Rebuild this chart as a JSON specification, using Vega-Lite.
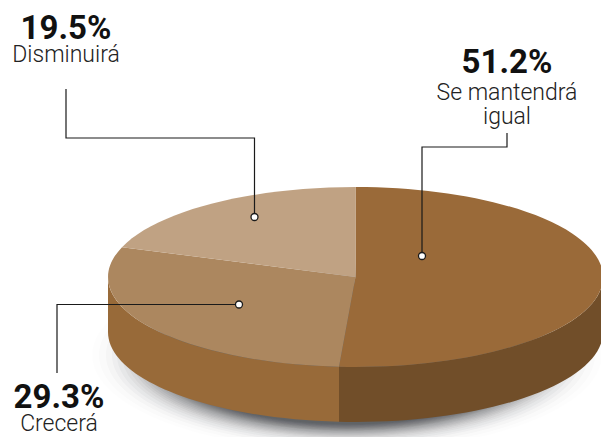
{"$schema":"https://vega.github.io/schema/vega-lite/v6.json","width":601,"height":437,"autosize":"none","padding":0,"background":"white","view":{"stroke":null},"config":{"axis":{"domain":false}},
"datasets":{
"shadow":[{"ring":1,"x":347,"y":355,"reach":255},{"ring":2,"x":347,"y":355,"reach":248},{"ring":3,"x":347,"y":355,"reach":241},{"ring":4,"x":347,"y":355,"reach":235},{"ring":5,"x":347,"y":355,"reach":230},{"ring":6,"x":347,"y":355,"reach":225},{"ring":7,"x":347,"y":355,"reach":221},{"ring":8,"x":347,"y":355,"reach":217},{"ring":9,"x":347,"y":355,"reach":214},{"ring":10,"x":347,"y":355,"reach":211},{"ring":11,"x":347,"y":355,"reach":208},{"ring":12,"x":347,"y":355,"reach":205},{"ring":13,"x":347,"y":355,"reach":202},{"ring":14,"x":347,"y":355,"reach":200},{"ring":15,"x":347,"y":355,"reach":198},{"ring":16,"x":347,"y":355,"reach":196},{"ring":17,"x":347,"y":355,"reach":194},{"ring":18,"x":347,"y":355,"reach":192},{"ring":19,"x":347,"y":355,"reach":190},{"ring":20,"x":347,"y":355,"reach":188},{"ring":21,"x":347,"y":355,"reach":186},{"ring":22,"x":347,"y":355,"reach":184}],
"pie":[{"piece":"Canto izquierdo","x":355.5,"y":277},{"piece":"Canto derecho","x":355.5,"y":277},{"piece":"Se mantendrá igual","share":51.2,"x":355.5,"y":277},{"piece":"Crecerá","share":29.3,"x":355.5,"y":277},{"piece":"Disminuirá","share":19.5,"x":355.5,"y":277}],
"leaders":[{"slice":"Disminuirá","seq":1,"x":66,"y":89},{"slice":"Disminuirá","seq":2,"x":66,"y":138},{"slice":"Disminuirá","seq":3,"x":254.5,"y":138},{"slice":"Disminuirá","seq":4,"x":254.5,"y":217},{"slice":"Se mantendrá igual","seq":1,"x":507,"y":133},{"slice":"Se mantendrá igual","seq":2,"x":507,"y":147},{"slice":"Se mantendrá igual","seq":3,"x":422,"y":147},{"slice":"Se mantendrá igual","seq":4,"x":422,"y":256},{"slice":"Crecerá","seq":1,"x":57,"y":373},{"slice":"Crecerá","seq":2,"x":57,"y":304.5},{"slice":"Crecerá","seq":3,"x":239,"y":304.5}],
"dots":[{"slice":"Disminuirá","x":254.5,"y":217},{"slice":"Se mantendrá igual","x":422,"y":256},{"slice":"Crecerá","x":239,"y":304.5}],
"shares":[{"text":"19.5%","x":66,"y":39},{"text":"51.2%","x":507,"y":73},{"text":"29.3%","x":59,"y":408}],
"names":[{"text":"Disminuirá","x":66,"y":62},{"text":"Se mantendrá","x":507,"y":100},{"text":"igual","x":507,"y":124},{"text":"Crecerá","x":59,"y":431}]
},
"layer":[
{"data":{"name":"shadow"},"mark":{"type":"point","filled":true,"shape":"M-1 0 A1 0.377 0 1 0 1 0 A1 0.377 0 1 0 -1 0 Z","fill":"#2a2c30","strokeWidth":0,"clip":true},
"encoding":{"x":{"field":"x","type":"quantitative","scale":{"domain":[0,601],"nice":false,"zero":false},"axis":null},"y":{"field":"y","type":"quantitative","scale":{"domain":[437,0],"nice":false,"zero":false},"axis":null},"size":{"field":"reach","type":"quantitative","scale":{"type":"pow","exponent":2,"domain":[0,300],"range":[0,360000]},"legend":null},"opacity":{"field":"reach","type":"quantitative","scale":{"domain":[184,255],"range":[0.085,0.008],"zero":false,"nice":false},"legend":null}}},
{"data":{"name":"pie"},"mark":{"type":"point","filled":true,"size":4,"opacity":1,"strokeWidth":0,"clip":true},
"encoding":{"x":{"field":"x","type":"quantitative","axis":null},"y":{"field":"y","type":"quantitative","axis":null},
"color":{"field":"piece","type":"nominal","legend":null,"scale":{"domain":["Canto izquierdo","Canto derecho","Se mantendrá igual","Crecerá","Disminuirá"],"range":["#986a39","#714e29","#9a6a39","#ac875f","#c0a283"]}},
"shape":{"field":"piece","type":"nominal","legend":null,"scale":{"domain":["Canto izquierdo","Canto derecho","Se mantendrá igual","Crecerá","Disminuirá"],"range":["M-247.5 0 A247.5 90 0 0 0 -16.5 89.8 L-16.5 144.8 A247.5 90 0 0 1 -247.5 55 Z","M-16.5 89.8 A247.5 90 0 0 0 247.5 0 L247.5 55 A247.5 90 0 0 1 -16.5 144.8 Z","M0 0 L0 -90 A247.5 90 0 1 1 -16.5 89.8 Z","M0 0 L-16.5 89.8 A247.5 90 0 0 1 -233.5 -29.8 Z","M0 0 L-233.5 -29.8 A247.5 90 0 0 1 0 -90 Z"]}}}},
{"data":{"name":"leaders"},"mark":{"type":"line","color":"#1a1a1a","strokeWidth":1.2},
"encoding":{"x":{"field":"x","type":"quantitative","axis":null},"y":{"field":"y","type":"quantitative","axis":null},"detail":{"field":"slice"},"order":{"field":"seq","type":"ordinal"}}},
{"data":{"name":"dots"},"mark":{"type":"point","filled":true,"shape":"circle","size":49,"opacity":1,"fill":"white","stroke":"#1a1a1a","strokeWidth":1.3},
"encoding":{"x":{"field":"x","type":"quantitative","axis":null},"y":{"field":"y","type":"quantitative","axis":null}}},
{"data":{"name":"shares"},"mark":{"type":"text","font":"Roboto","fontWeight":"bold","fontSize":33,"color":"#111111","align":"center","baseline":"alphabetic"},
"encoding":{"x":{"field":"x","type":"quantitative","axis":null},"y":{"field":"y","type":"quantitative","axis":null},"text":{"field":"text"}}},
{"data":{"name":"names"},"mark":{"type":"text","font":"Roboto","fontWeight":300,"fontSize":23,"color":"#222222","align":"center","baseline":"alphabetic"},
"encoding":{"x":{"field":"x","type":"quantitative","axis":null},"y":{"field":"y","type":"quantitative","axis":null},"text":{"field":"text"}}}
]}
